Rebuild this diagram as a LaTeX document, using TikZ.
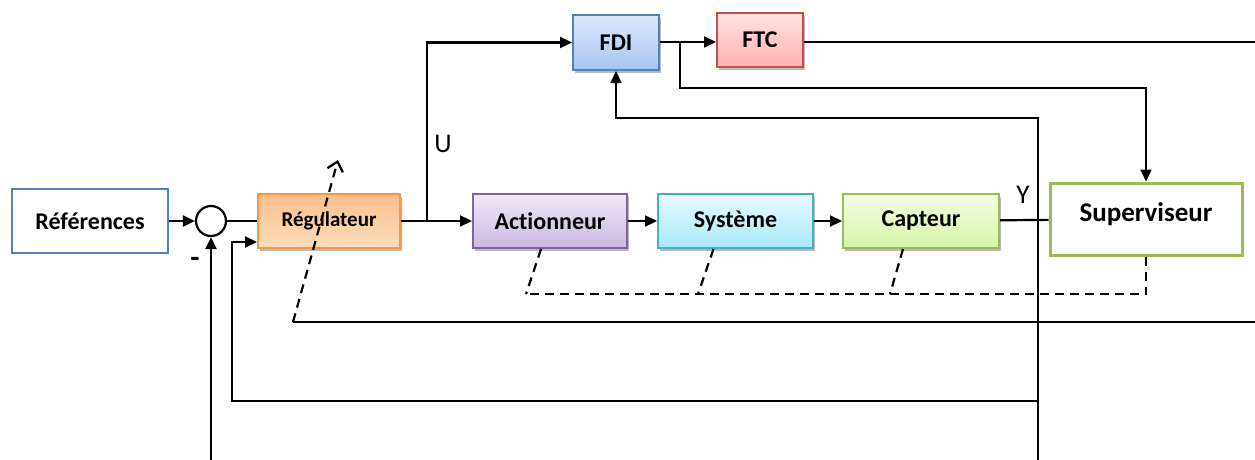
\documentclass[tikz,border=0pt]{standalone}
\usepackage{fontspec}
\setmainfont{Carlito}[Ligatures=NoCommon]
\usetikzlibrary{arrows.meta,positioning,shadows}
\definecolor{bleuBord}{HTML}{4F81BD}
\definecolor{bleuHaut}{HTML}{DDE9FB}
\definecolor{bleuBas}{HTML}{A6C5F2}
\definecolor{rougeBord}{HTML}{C0504D}
\definecolor{rougeHaut}{HTML}{FFE2E2}
\definecolor{rougeBas}{HTML}{FFB0B0}
\definecolor{orangeBord}{HTML}{F79646}
\definecolor{orangeHaut}{HTML}{FBBF8C}
\definecolor{orangeBas}{HTML}{FDDCBB}
\definecolor{violetBord}{HTML}{8064A2}
\definecolor{violetHaut}{HTML}{EFE9F7}
\definecolor{violetBas}{HTML}{CBB8E3}
\definecolor{cyanBord}{HTML}{4BACC6}
\definecolor{cyanHaut}{HTML}{E8FAFE}
\definecolor{cyanBas}{HTML}{A8E8FA}
\definecolor{vertBord}{HTML}{9BBB59}
\definecolor{vertHaut}{HTML}{F3FDE6}
\definecolor{vertBas}{HTML}{D6F5A6}

\begin{document}
\begin{tikzpicture}[x=1pt, y=-1pt,
    boite/.style={rectangle, draw, line width=2pt, fill=white, minimum height=54pt,
                  align=center, font=\fontsize{24}{28}\selectfont\bfseries},
    bloc/.style={boite, drop shadow={shadow xshift=2pt, shadow yshift=-3pt, fill=black!45, opacity=0.6}},
    fleche/.style={-{Triangle[length=12pt,width=11pt]}, line width=2.2pt},
    trait/.style={line width=2.2pt},
    tirets/.style={line width=2.2pt, dash pattern=on 9pt off 6pt},
    etiq/.style={font=\fontsize{27}{30}\selectfont, inner sep=0pt}
  ]
  \useasboundingbox (0,0) rectangle (1255,460);

  % Boucle principale
  \node[boite, draw=bleuBord, line width=2.4pt, minimum width=156pt, minimum height=64pt] (ref) at (90,221) {Références};
  \node[circle, draw, line width=2.2pt, minimum size=30pt, inner sep=0pt] (som) at (211,221) {};
  \node[bloc, draw=orangeBord, top color=orangeHaut, bottom color=orangeBas, minimum width=142pt,
        font=\fontsize{21}{24}\selectfont\bfseries] (reg) at (329,221) {Régulateur};
  \node[bloc, draw=violetBord, top color=violetHaut, bottom color=violetBas, minimum width=154pt] (act) at (550,221) {Actionneur};
  \node[bloc, draw=cyanBord, top color=cyanHaut, bottom color=cyanBas, minimum width=155pt] (sys) at (735.5,221) {Système};
  \node[bloc, draw=vertBord, top color=vertHaut, bottom color=vertBas, minimum width=156pt] (cap) at (921,221) {Capteur};
  \node[boite, draw=vertBord, line width=3pt, minimum width=192pt, minimum height=72pt,
        text height=18pt, text depth=13pt, font=\fontsize{27}{30}\selectfont\bfseries] (sup) at (1146,219) {Superviseur};

  % Diagnostic et commande tolerante
  \node[bloc, draw=bleuBord, top color=bleuHaut, bottom color=bleuBas, minimum width=86pt, minimum height=55pt] (fdi) at (616,42.5) {FDI};
  \node[bloc, draw=rougeBord, top color=rougeHaut, bottom color=rougeBas, minimum width=86pt] (ftc) at (760,40) {FTC};

  \coordinate (bu) at (427,221);
  \coordinate (bf) at (680,42);
  \coordinate (sortieFTC) at (1255,42);
  \coordinate (basFDI) at (1038,460);
  \coordinate (rb) at (1038,401);
  \coordinate (retour) at (211,460);
  \coordinate (sortieR) at (1255,322);
  \coordinate (coin) at (293,322);
  \coordinate (pointe) at (338,160);

  \draw[fleche] (ref) -- (som);
  \draw[trait] (som) -- (reg);
  \draw[fleche] (reg) -- (act);
  \draw[fleche] (bu) |- (fdi.west);
  \draw[fleche] (act) -- (sys);
  \draw[fleche] (sys) -- (cap);
  \draw[trait] (cap) -- (sup);
  \draw[fleche] (fdi.east |- bf) -- (ftc.west |- bf);
  \draw[trait] (ftc.east |- sortieFTC) -- (sortieFTC);
  \draw[fleche] (bf) -- ++(0,46) -| (sup.north);
  \draw[fleche] (basFDI) -- (1038,118) -| (fdi.south);
  \draw[fleche] (rb) -- (232,401) |- ([yshift=-21pt]reg.west);
  \draw[fleche] (retour) -- (som.south);

  % Reconfiguration
  \draw[trait] (sortieR) -- (coin);
  \draw[tirets, -{Straight Barb[length=9pt,width=16pt]}] (coin) -- (pointe);
  \draw[tirets] (sup.south) -- (1146,294) -- (526,294);
  \foreach \b/\dx/\xb in {act/-9/526, sys/-22/698, cap/-18/890}
    \draw[tirets] ([xshift=\dx pt]\b.south) -- (\xb,294);

  \node[etiq] (lu) at (443,144) {U};
  \node[etiq] (ly) at (1023,195) {Y};
  \node[etiq, font=\fontsize{30}{30}\selectfont\bfseries] (moins) at (195,262) {-};
\end{tikzpicture}
\end{document}
